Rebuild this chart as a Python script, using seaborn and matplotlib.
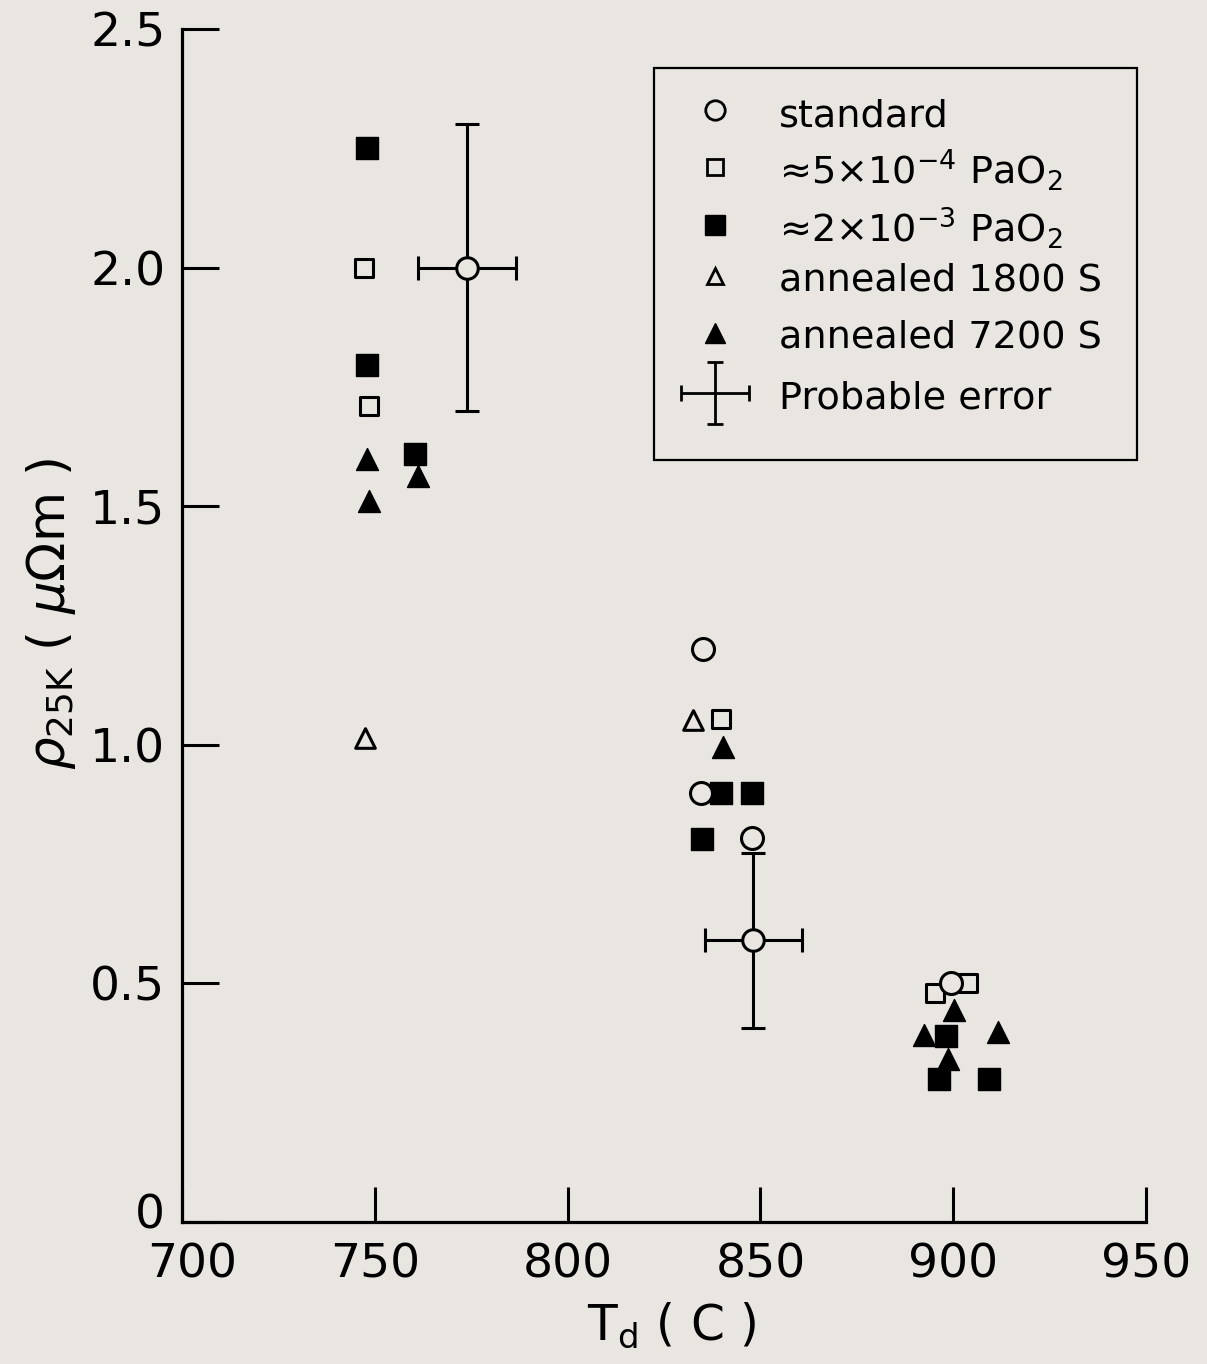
import matplotlib
matplotlib.use("Agg")
import matplotlib.pyplot as plt
import matplotlib.transforms as mtransforms
import seaborn as sns
from matplotlib.patches import Rectangle

# ---- data ----
std_T = [835.1, 834.5, 847.7, 899.3]
std_r = [1.20, 0.90, 0.805, 0.50]

sq_open_T = [747.1, 748.4, 839.9, 895.2, 903.8]
sq_open_r = [2.00, 1.71, 1.055, 0.48, 0.50]

sq_fill_T = [747.9, 747.9, 760.4, 839.9, 847.7, 834.8, 898.2, 896.3, 909.2]
sq_fill_r = [2.25, 1.795, 1.61, 0.90, 0.90, 0.803, 0.39, 0.30, 0.30]

tri_open_T = [747.4, 832.6]
tri_open_r = [1.015, 1.052]

tri_fill_T = [747.9, 748.4, 761.2, 840.4, 900.3, 892.5, 911.6, 898.6]
tri_fill_r = [1.60, 1.51, 1.563, 0.996, 0.445, 0.391, 0.398, 0.342]

err_T = [774.0, 848.2]
err_r = [2.00, 0.59]
err_dT = [12.7, 12.7]
err_dr = [0.30, 0.183]

legend_labels = ["standard",
                 "≈5×10$^{-4}$ PaO$_2$",
                 "≈2×10$^{-3}$ PaO$_2$",
                 "annealed 1800 S",
                 "annealed 7200 S",
                 "Probable error"]

x_ticks = [700, 750, 800, 850, 900, 950]
x_ticklabels = ["700", "750", "800", "850", "900", "950"]
y_ticks = [0, 0.5, 1.0, 1.5, 2.0, 2.5]
y_ticklabels = ["0", "0.5", "1.0", "1.5", "2.0", "2.5"]

BG = "#e9e6e1"

sns.set_theme(style="ticks")
plt.rcParams["font.family"] = ["DejaVu Sans"]
plt.rcParams["mathtext.fontset"] = "dejavusans"

fig = plt.figure(figsize=(12.07, 13.64), dpi=100, facecolor=BG)
ax = fig.add_axes([0.1508, 0.1041, 0.7987, 0.8746])
ax.set_facecolor(BG)

# ---- points ----
sns.scatterplot(x=sq_fill_T, y=sq_fill_r, marker="s", s=240, color="black",
                edgecolor="black", linewidth=1, ax=ax, zorder=3)
sns.scatterplot(x=tri_fill_T, y=tri_fill_r, marker="^", s=250, color="black",
                edgecolor="black", linewidth=1, ax=ax, zorder=3)
sns.scatterplot(x=sq_open_T, y=sq_open_r, marker="s", s=165, facecolor=BG,
                edgecolor="black", linewidth=2.2, ax=ax, zorder=4)
sns.scatterplot(x=tri_open_T, y=tri_open_r, marker="^", s=200, facecolor=BG,
                edgecolor="black", linewidth=2.2, ax=ax, zorder=4)
sns.scatterplot(x=std_T, y=std_r, marker="o", s=250, facecolor=BG,
                edgecolor="black", linewidth=2.2, ax=ax, zorder=5)

# probable-error bars
ax.errorbar(err_T, err_r, xerr=err_dT, yerr=err_dr, fmt="o", ms=15.5,
            mfc=BG, mec="black", mew=2.2, ecolor="black", elinewidth=2.2,
            capsize=8.5, capthick=2.2, zorder=5)

# ---- axes styling ----
ax.set_xlim(700, 950)
ax.set_ylim(0, 2.5)
sns.despine(ax=ax)
for sp in ["left", "bottom"]:
    ax.spines[sp].set_linewidth(2.3)
    ax.spines[sp].set_color("black")
ax.set_xticks(x_ticks)
ax.set_xticklabels(x_ticklabels)
ax.set_yticks(y_ticks)
ax.set_yticklabels(y_ticklabels)
ax.tick_params(axis="x", direction="in", length=25, width=2.2, pad=15,
               labelsize=34, colors="black")
ax.tick_params(axis="y", direction="in", length=26.5, width=2.2, pad=12,
               labelsize=34, colors="black")

# nudge the corner labels apart as in the original
ytl = ax.get_yticklabels()[0]
ytl.set_transform(ytl.get_transform() +
                  mtransforms.ScaledTranslation(0, 8 / 72, fig.dpi_scale_trans))
xtl = ax.get_xticklabels()[0]
xtl.set_transform(xtl.get_transform() +
                  mtransforms.ScaledTranslation(7 / 72, 0, fig.dpi_scale_trans))

ax.set_xlabel("T$_\\mathrm{d}$ ( C )", fontsize=35, color="black")
ax.xaxis.set_label_coords(0.508, -0.066)
ax.set_ylabel("$\\rho_{\\mathrm{25K}}$ ( $\\mu\\Omega$m )", fontsize=37, color="black")
ax.yaxis.set_label_coords(-0.108, 0.51)

# ---- legend (drawn manually) ----
ax.add_patch(Rectangle((0.4896, 0.6387), 0.5011, 0.3286, transform=ax.transAxes,
                       fill=False, edgecolor="black", linewidth=1.6, zorder=6,
                       clip_on=False))
mx = 0.5529
tx = 0.619
row_marker_y = [0.9321, 0.8843, 0.8357, 0.7930, 0.7452, 0.6949]
row_text_y = [0.9187, 0.8692, 0.8215, 0.7812, 0.7334, 0.6823]
leg_styles = [
    dict(marker="o", ms=14, mfc=BG, mec="black", mew=2.0),
    dict(marker="s", ms=12, mfc=BG, mec="black", mew=2.0),
    dict(marker="s", ms=15, mfc="black", mec="black", mew=1.0),
    dict(marker="^", ms=12, mfc=BG, mec="black", mew=2.0),
    dict(marker="^", ms=14, mfc="black", mec="black", mew=1.0),
]
for yy, st in zip(row_marker_y[:5], leg_styles):
    ax.plot([mx], [yy], transform=ax.transAxes, linestyle="none", zorder=7,
            clip_on=False, **st)
ax.errorbar([mx], [row_marker_y[5]], xerr=[0.0357], yerr=[0.026], fmt="none",
            ecolor="black", elinewidth=2.0, capsize=5.5, capthick=2.0,
            transform=ax.transAxes, zorder=7, clip_on=False)
for yy, lab in zip(row_text_y, legend_labels):
    ax.text(tx, yy, lab, transform=ax.transAxes, fontsize=27.5, color="black",
            ha="left", va="baseline", zorder=7)

fig.savefig("out.png", dpi=100, facecolor=BG)
